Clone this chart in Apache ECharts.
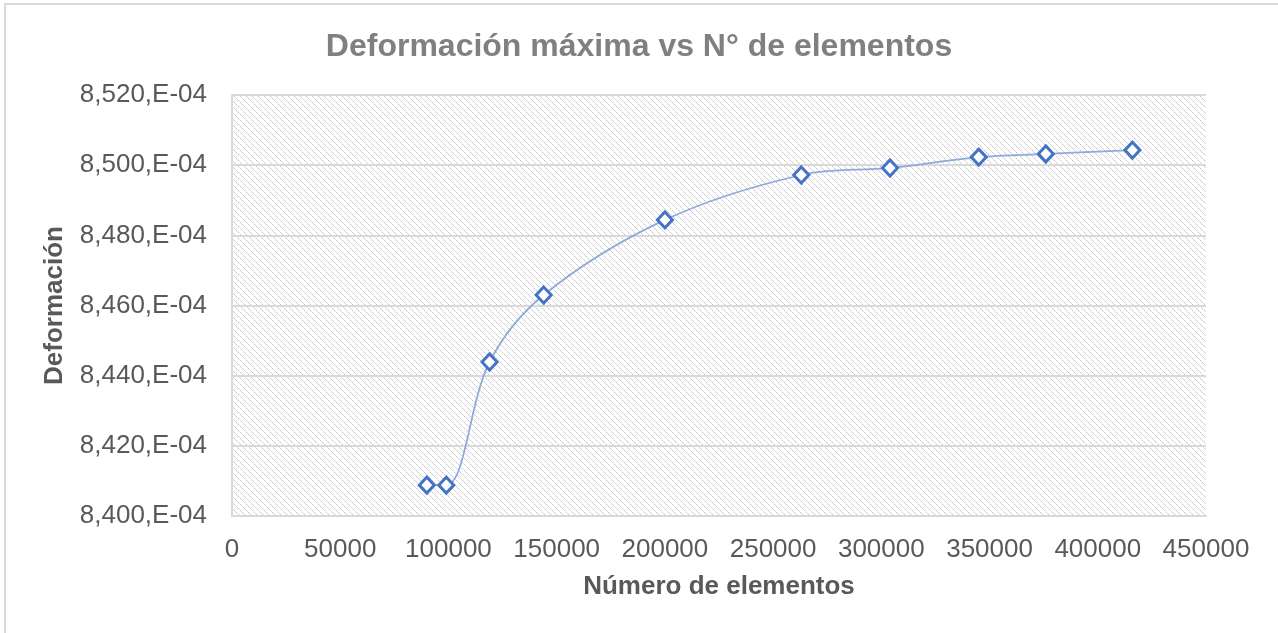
<!DOCTYPE html>
<html>
<head>
<meta charset="utf-8">
<script src="https://cdn.jsdelivr.net/npm/echarts@6/dist/echarts.min.js"></script>
<style>
html,body{margin:0;padding:0;background:#fff;}
#chart{width:1278px;height:633px;}
</style>
</head>
<body>
<div id="chart"></div>
<script>
// Data (deformation in units of 1E-04)
const elements = [90000, 99000, 119000, 144000, 200000, 263000, 304000, 345000, 376000, 416000];
const deformation_e4 = [8.4088, 8.4088, 8.4439, 8.4630, 8.4844, 8.4972, 8.4992, 8.5023, 8.5032, 8.5043];
const titleText = 'Deformación máxima vs N° de elementos';
const xName = 'Número de elementos';
const yName = 'Deformación';

// hatch pattern tile (downward diagonal)
const tile = document.createElement('canvas');
tile.width = 6; tile.height = 6;
const tctx = tile.getContext('2d');
tctx.fillStyle = '#ffffff';
tctx.fillRect(0, 0, 6, 6);
for (let i = 0; i < 6; i++) {
  tctx.fillStyle = (i % 2 === 0) ? '#c2c2c2' : '#dedede';
  tctx.fillRect(i, i, 1, 1);
}

const chart = echarts.init(document.getElementById('chart'), null, {renderer: 'canvas'});
const font = 'Arial, "Liberation Sans", sans-serif';
chart.setOption({
  animation: false,
  backgroundColor: '#ffffff',
  title: {
    text: titleText,
    left: 'center',
    top: 26,
    textStyle: {fontFamily: font, fontSize: 32, fontWeight: 'bold', color: '#808080'}
  },
  graphic: [{
    type: 'rect',
    shape: {x: 5, y: 4, width: 1400, height: 800},
    style: {fill: 'none', stroke: '#d9d9d9', lineWidth: 2},
    silent: true,
    z: -1
  }],
  grid: {
    left: 232, right: 72, top: 95, bottom: 117,
    show: true,
    borderWidth: 0,
    backgroundColor: {image: tile, repeat: 'repeat'}
  },
  xAxis: {
    type: 'value',
    min: 0, max: 450000, interval: 50000,
    name: xName,
    nameLocation: 'middle',
    nameGap: 58,
    nameTextStyle: {fontFamily: font, fontSize: 26, fontWeight: 'bold', color: '#595959'},
    axisLine: {show: true, lineStyle: {color: '#d9d9d9', width: 2}},
    axisTick: {show: false},
    splitLine: {show: false},
    axisLabel: {
      fontFamily: font, fontSize: 26, color: '#595959', margin: 21,
      formatter: v => String(v)
    }
  },
  yAxis: {
    type: 'value',
    min: 8.400, max: 8.520, interval: 0.020,
    name: yName,
    nameLocation: 'middle',
    nameGap: 164,
    nameTextStyle: {fontFamily: font, fontSize: 26, fontWeight: 'bold', color: '#595959'},
    axisLine: {show: true, lineStyle: {color: '#d9d9d9', width: 2}},
    axisTick: {show: false},
    splitLine: {show: true, lineStyle: {color: '#d9d9d9', width: 2}},
    axisLabel: {
      fontFamily: font, fontSize: 26, color: '#595959', margin: 25,
      formatter: v => v.toFixed(3).replace('.', ',') + ',E-04'
    }
  },
  series: [{
    type: 'line',
    data: elements.map((x, i) => [x, deformation_e4[i]]),
    smooth: 0.35,
    symbol: 'diamond',
    symbolSize: [15, 16],
    lineStyle: {color: '#8eaadb', width: 1.75},
    itemStyle: {color: '#ffffff', borderColor: '#4472c4', borderWidth: 3}
  }]
});
</script>
</body>
</html>
